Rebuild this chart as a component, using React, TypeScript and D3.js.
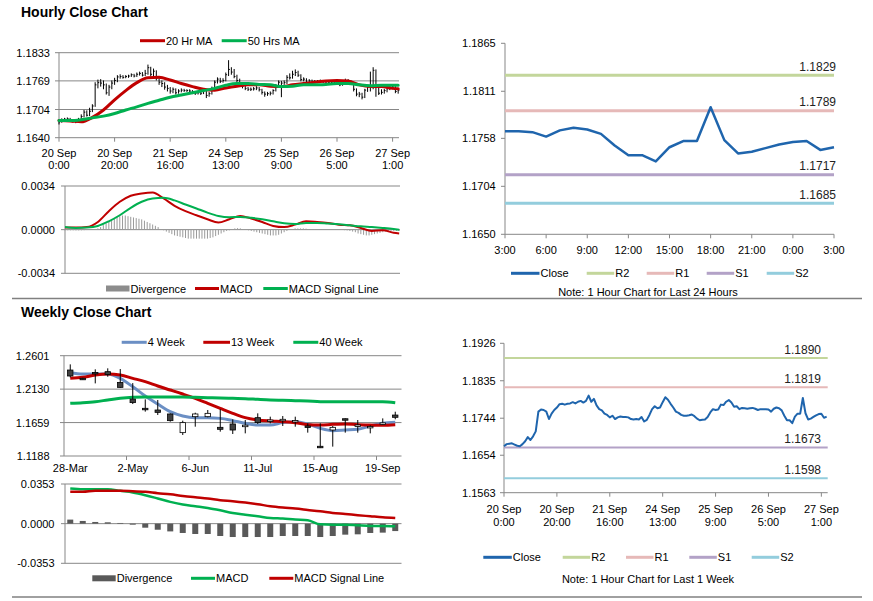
import React from "react";
import * as d3 from "d3";

const font = "Arial, 'Liberation Sans', sans-serif";

// ---------- Hourly data: 20 Sep 0:00 .. 27 Sep 3:00 (123 trading hours)
const hourlyClose = [
  1.1676, 1.1681, 1.1682, 1.1683, 1.168, 1.1677, 1.1676, 1.1681, 1.1688, 1.1698,
  1.1691, 1.17, 1.1712, 1.176, 1.1765, 1.1764, 1.176, 1.1742, 1.1755, 1.1764,
  1.177, 1.1778, 1.1779, 1.1777, 1.1779, 1.178, 1.1783, 1.178, 1.1784, 1.1786,
  1.1782, 1.1786, 1.1799, 1.1784, 1.1791, 1.1775, 1.1766, 1.1763, 1.1755, 1.1752,
  1.1746, 1.175, 1.1742, 1.1746, 1.1748, 1.1747, 1.1747, 1.1746, 1.1742, 1.1741,
  1.1742, 1.1741, 1.1747, 1.1736, 1.174, 1.1752, 1.1766, 1.1773, 1.1768, 1.177,
  1.1783, 1.1795, 1.1789, 1.1779, 1.177, 1.176, 1.1757, 1.1752, 1.175, 1.175,
  1.1751, 1.1753, 1.1749, 1.1743, 1.1739, 1.174, 1.1741, 1.1747, 1.1758, 1.1766,
  1.1764, 1.1765, 1.1777, 1.1776, 1.1784, 1.1788, 1.1782, 1.1772, 1.1773, 1.1766,
  1.1769, 1.1768, 1.1767, 1.1768, 1.1769, 1.1767, 1.1764, 1.1766,
  1.1766, 1.1766, 1.1765, 1.176, 1.1767, 1.177, 1.1768, 1.1763, 1.175, 1.1739,
  1.1739, 1.1732, 1.1748, 1.1755, 1.1755, 1.1793, 1.1756, 1.1741, 1.1743, 1.1747,
  1.1751, 1.1754, 1.1755, 1.1745, 1.1748,
];
const hourlyHigh = [
  1.168, 1.1684, 1.1685, 1.1686, 1.1685, 1.1682, 1.1681, 1.1685, 1.1693, 1.1703,
  1.1702, 1.1708, 1.1716, 1.1766, 1.1772, 1.1773, 1.177, 1.1763, 1.176, 1.177,
  1.1776, 1.1782, 1.1784, 1.1782, 1.1782, 1.1783, 1.1786, 1.1785, 1.1788, 1.179,
  1.1789, 1.1794, 1.1806, 1.1801, 1.1797, 1.1793, 1.1778, 1.177, 1.1766, 1.176,
  1.1755, 1.1754, 1.1752, 1.175, 1.1752, 1.1751, 1.175, 1.175, 1.1748, 1.1745,
  1.1746, 1.1745, 1.175, 1.1748, 1.1744, 1.1756, 1.177, 1.1777, 1.1776, 1.1775,
  1.1788, 1.1816, 1.18, 1.1796, 1.1783, 1.1774, 1.1763, 1.176, 1.1755, 1.1754,
  1.1755, 1.1757, 1.1755, 1.1751, 1.1745, 1.1744, 1.1745, 1.175, 1.1762, 1.177,
  1.1769, 1.177, 1.1782, 1.1786, 1.1792, 1.1795, 1.1792, 1.1784, 1.1777, 1.1775,
  1.1773, 1.1772, 1.1771, 1.1771, 1.1772, 1.1771, 1.1769, 1.177, 1.177, 1.1769,
  1.1769, 1.1767, 1.1771, 1.1774, 1.1773, 1.177, 1.1765, 1.1752, 1.1744, 1.1742,
  1.1751, 1.1759, 1.179, 1.18, 1.1795, 1.176, 1.175, 1.1751, 1.1755, 1.1758,
  1.1759, 1.1757, 1.1752,
];
const hourlyLow = [
  1.167, 1.1674, 1.1678, 1.1679, 1.1677, 1.1674, 1.1673, 1.1675, 1.1679, 1.1686,
  1.1688, 1.1689, 1.1698, 1.171, 1.1752, 1.1756, 1.175, 1.1738, 1.1735, 1.175,
  1.176, 1.1766, 1.1774, 1.1774, 1.1775, 1.1776, 1.1778, 1.1777, 1.1778, 1.1781,
  1.1779, 1.178, 1.1783, 1.1779, 1.178, 1.177, 1.176, 1.1755, 1.1749, 1.1745,
  1.174, 1.1741, 1.1738, 1.174, 1.1743, 1.1744, 1.1744, 1.1743, 1.1739, 1.1737,
  1.1738, 1.1737, 1.1739, 1.173, 1.1733, 1.1738, 1.175, 1.1763, 1.1764, 1.1765,
  1.1768, 1.178, 1.1783, 1.1775, 1.1765, 1.1756, 1.1752, 1.1748, 1.1746, 1.1746,
  1.1747, 1.1748, 1.1745, 1.1738, 1.1733, 1.1735, 1.1736, 1.1738, 1.1745, 1.1755,
  1.1732, 1.176, 1.1762, 1.1772, 1.1774, 1.178, 1.1778, 1.1768, 1.1768, 1.1762,
  1.1764, 1.1765, 1.1764, 1.1764, 1.1765, 1.1764, 1.1761, 1.1762, 1.1762, 1.1763,
  1.1761, 1.1757, 1.1758, 1.1764, 1.1764, 1.176, 1.1745, 1.1734, 1.1732, 1.1727,
  1.173, 1.1744, 1.1745, 1.175, 1.1733, 1.1737, 1.1738, 1.174, 1.1743, 1.1748,
  1.175, 1.1741, 1.174,
];
const hourlyTickIdx = [0, 20, 40, 60, 80, 100, 120];
const hourlyTickDay = ["20 Sep", "20 Sep", "21 Sep", "24 Sep", "25 Sep", "26 Sep", "27 Sep"];
const hourlyTickTime = ["0:00", "20:00", "16:00", "13:00", "9:00", "5:00", "1:00"];
const hourlyPriceTicks = ["1.1640", "1.1704", "1.1769", "1.1833"];

// moving averages and MACD read every 4 hours
const sampleHours = [
  0, 4, 8, 12, 16, 20, 24, 28, 32, 36, 40, 44, 48, 52, 56, 60,
  64, 68, 72, 76, 80, 84, 88, 92, 96, 100, 104, 108, 112, 116, 120, 122,
];
const ma20Hr = [
  1.1679, 1.1678, 1.1676, 1.1686, 1.1703, 1.1726, 1.1747, 1.1765, 1.1776, 1.1777, 1.1771,
  1.1763, 1.1756, 1.175, 1.1748, 1.1753, 1.1757, 1.176, 1.176, 1.1757, 1.1756, 1.176,
  1.1763, 1.1766, 1.1769, 1.177, 1.1769, 1.176, 1.1756, 1.1756, 1.1752, 1.1751,
];
const ma50Hr = [
  1.1679, 1.1679, 1.1681, 1.1685, 1.1689, 1.1695, 1.1703, 1.171, 1.1718, 1.1725, 1.1732,
  1.1737, 1.1742, 1.1747, 1.1752, 1.1759, 1.1763, 1.1763, 1.1761, 1.176, 1.1756, 1.1757,
  1.176, 1.176, 1.1761, 1.1763, 1.1763, 1.176, 1.1758, 1.1759, 1.1759, 1.1759,
];
const macdHourly = [
  0.00016, 0.00016, 0.0002, 0.0006, 0.00144, 0.00217, 0.00264, 0.00282, 0.0029, 0.00243,
  0.00186, 0.00144, 0.00112, 0.00081, 0.00055, 0.00081, 0.00107, 0.00086, 0.0006, 0.00029,
  0.0002, 0.00039, 0.00065, 0.0006, 0.00052, 0.00039, 0.00034, 0.00013, -0.0001, -0.00005,
  -0.00024, -0.0003,
];
const signalHourly = [
  0.0002, 0.00013, 0.00016, 0.00029, 0.00065, 0.00112, 0.0017, 0.00217, 0.00243, 0.00248,
  0.00228, 0.00196, 0.00165, 0.00133, 0.00107, 0.00097, 0.00099, 0.00092, 0.00081, 0.00065,
  0.0005, 0.00044, 0.00052, 0.00052, 0.00047, 0.00042, 0.00034, 0.00026, 0.0002, 0.00013,
  0.00005, 0,
];
const divergenceHourly = [
  -0.00005, -0.00005, -0.00005, -0.00005, -0.00006, -0.00006, -0.00005, -0.00004, -0.00003, -0.00002,
  0.00002, 0.00005, 0.0001, 0.0002, 0.00035, 0.0005, 0.00065, 0.0008, 0.0009, 0.001,
  0.00105, 0.0011, 0.0011, 0.00105, 0.001, 0.00095, 0.0009, 0.00085, 0.0008, 0.0007,
  0.0006, 0.0005, 0.0004, 0.0003, 0.0002, 0.00005, -0.00005, -0.00015, -0.00025, -0.00035,
  -0.00045, -0.0005, -0.00055, -0.0006, -0.00065, -0.0007, -0.0007, -0.0007, -0.0007, -0.0007,
  -0.0007, -0.0007, -0.0007, -0.00065, -0.0006, -0.0005, -0.0004, -0.0003, -0.0002, -0.0001,
  -0.00005, 0.00005, 0.0001, 0.00012, 0.0001, 0.00005, 0, -0.00005, -0.0001, -0.00015,
  -0.0002, -0.00025, -0.0003, -0.00035, -0.0004, -0.00045, -0.00045, -0.00045, -0.0004, -0.0003,
  -0.0002, -0.0001, 0, 0.00005, 0.0001, 0.0001, 0.0001, 0.0001, 0.00008, 0.00005,
  0.00005, 0.00004, 0.00003, 0.00003, 0.00004, 0.00004, 0.00003, 0.00002, 0.00001, 0,
  0, -0.00002, -0.00004, -0.00006, -0.0001, -0.00015, -0.0002, -0.0003, -0.00035, -0.0004,
  -0.00045, -0.00045, -0.0004, -0.00035, -0.0003, -0.00025, -0.0002, -0.00015, -0.00015, -0.00012,
  -0.0001, -0.0001, -0.0001,
];
const hourlyMacdTicks = ["-0.0034", "0.0000", "0.0034"];

// ---------- Last 24 hours (3:00 .. 3:00)
const dayHours = [
  "3:00", "4:00", "5:00", "6:00", "7:00", "8:00", "9:00", "10:00", "11:00", "12:00", "13:00",
  "14:00", "15:00", "16:00", "17:00", "18:00", "19:00", "20:00", "21:00", "22:00", "23:00",
  "0:00", "1:00", "2:00", "3:00",
];
const dayClose = hourlyClose.slice(98);
const dayPriceTicks = ["1.1650", "1.1704", "1.1758", "1.1811", "1.1865"];
const levelNames = ["R2", "R1", "S1", "S2"];
const dayLevels = [1.1829, 1.1789, 1.1717, 1.1685];

// ---------- Last week, hourly
const weekPriceTicks = ["1.1563", "1.1654", "1.1744", "1.1835", "1.1926"];
const weekLevels = [1.189, 1.1819, 1.1673, 1.1598];

// ---------- Weekly candles
const weeks = [
  "28-Mar", "4-Apr", "11-Apr", "18-Apr", "25-Apr", "2-May", "9-May", "16-May", "23-May",
  "30-May", "6-Jun", "13-Jun", "20-Jun", "27-Jun", "4-Jul", "11-Jul", "18-Jul", "25-Jul",
  "1-Aug", "8-Aug", "15-Aug", "22-Aug", "29-Aug", "5-Sep", "12-Sep", "19-Sep", "26-Sep",
];
const weekOpen = [
  1.2399, 1.2283, 1.2365, 1.2376, 1.2225, 1.199, 1.186, 1.1836, 1.178, 1.1517, 1.1742, 1.1742,
  1.1592, 1.1639, 1.1615, 1.1728, 1.169, 1.17, 1.168, 1.1611, 1.1325, 1.1554, 1.1713, 1.162,
  1.16, 1.165, 1.1765,
];
const weekHigh = [
  1.2479, 1.229, 1.2409, 1.2423, 1.2413, 1.2215, 1.1986, 1.1977, 1.1789, 1.1686, 1.1798, 1.1836,
  1.1845, 1.1704, 1.1695, 1.1789, 1.1742, 1.1751, 1.1742, 1.1648, 1.1648, 1.1611, 1.1718, 1.1695,
  1.162, 1.1718, 1.1812,
];
const weekLow = [
  1.2296, 1.2262, 1.2211, 1.2305, 1.215, 1.192, 1.1813, 1.1766, 1.1672, 1.1484, 1.1601, 1.1733,
  1.1531, 1.1498, 1.1507, 1.1639, 1.1648, 1.1611, 1.1601, 1.1517, 1.13, 1.132, 1.1517, 1.1517,
  1.1507, 1.1625, 1.1705,
];
const weekClose = [
  1.2315, 1.2275, 1.2345, 1.2335, 1.2155, 1.194, 1.184, 1.1803, 1.1686, 1.1658, 1.178, 1.1789,
  1.1564, 1.1554, 1.1622, 1.1658, 1.1695, 1.1705, 1.1688, 1.1592, 1.131, 1.1592, 1.17, 1.1625,
  1.1605, 1.1655, 1.1733,
];
const ma4Week = [
  1.2362, 1.2343, 1.2343, 1.2343, 1.2282, 1.2164, 1.2033, 1.192, 1.1812, 1.1751, 1.1728, 1.1728,
  1.1718, 1.1686, 1.1648, 1.1625, 1.1625, 1.1658, 1.1672, 1.1639, 1.1578, 1.1545, 1.1554, 1.1564,
  1.1611, 1.1648, 1.1662,
];
const ma13Week = [
  1.2282, 1.2296, 1.2329, 1.2343, 1.2329, 1.2282, 1.2235, 1.2174, 1.2118, 1.2061, 1.2, 1.193,
  1.1859, 1.1789, 1.1728, 1.1695, 1.1681, 1.1672, 1.1658, 1.1629, 1.1625, 1.1634, 1.1639, 1.1629,
  1.1625, 1.162, 1.1629,
];
const ma40Week = [
  1.193, 1.1939, 1.1953, 1.1977, 1.2, 1.2014, 1.2019, 1.2019, 1.2019, 1.2019, 1.2014, 1.201,
  1.2005, 1.2, 1.1996, 1.1986, 1.1977, 1.1972, 1.1967, 1.1963, 1.1953, 1.1953, 1.1953, 1.1953,
  1.1953, 1.1953, 1.1939,
];
const weeklyPriceTicks = ["1.1188", "1.1659", "1.2130", "1.2601"];
const macdWeekly = [
  0.0313, 0.0307, 0.0307, 0.0307, 0.0292, 0.0277, 0.0253, 0.0224, 0.0194, 0.017, 0.0155, 0.014,
  0.0119, 0.0095, 0.008, 0.0066, 0.0051, 0.0045, 0.0036, 0.003, -0.0006, -0.0009, -0.0009,
  -0.0015, -0.0021, -0.0021, -0.0024,
];
const signalWeekly = [
  0.0283, 0.0283, 0.0292, 0.0292, 0.0292, 0.0289, 0.0283, 0.0271, 0.0262, 0.0247, 0.0235, 0.0224,
  0.0209, 0.02, 0.0188, 0.0173, 0.0155, 0.0143, 0.0134, 0.0122, 0.011, 0.0095, 0.0086, 0.0075,
  0.0066, 0.0057, 0.0051,
];
const divergenceWeekly = [
  0.0036, 0.0024, 0.0015, 0.0012, 0.0006, -0.0009, -0.0036, -0.0054, -0.0069, -0.0083, -0.0092,
  -0.0092, -0.011, -0.0119, -0.0119, -0.0119, -0.0119, -0.011, -0.011, -0.011, -0.0119, -0.011,
  -0.0098, -0.0095, -0.0083, -0.008, -0.0066,
];
const weeklyMacdTicks = ["-0.0353", "0.0000", "0.0353"];

// ---------- styles
const RED = "#c00000";
const GREEN = "#00b050";
const CLOSE_BLUE = "#1f65ad";
const MA_BLUE = "#6b8fc4";
const GRID = "#878787";
const levelColors = ["#c3d69b", "#e6b9b8", "#b3a2c7", "#93cddd"];
const txt = { fontFamily: font, fontSize: 11, fill: "#000" } as const;

type LegendItem = { label: string; color: string; x: number; kind: "line" | "rect"; w?: number };

const Legend = ({ items, y }: { items: LegendItem[]; y: number }) => (
  <g>
    {items.map((it) => {
      const w = it.w ?? 25;
      return (
        <g key={it.label}>
          {it.kind === "line" ? (
            <line x1={it.x} x2={it.x + w} y1={y} y2={y} stroke={it.color} strokeWidth={3} />
          ) : (
            <rect x={it.x} y={y - 3} width={w} height={6} fill={it.color} />
          )}
          <text {...txt} x={it.x + w + 1} y={y} dominantBaseline="central">
            {it.label}
          </text>
        </g>
      );
    })}
  </g>
);

const YAxis = ({ ticks, y, x0, x1, gridLines, labelX }: {
  ticks: string[]; y: d3.ScaleLinear<number, number>; x0: number; x1: number; gridLines: boolean; labelX: number;
}) => {
  const [b, t] = y.range();
  return (
    <g>
      {ticks.map((tk) => (
        <g key={tk}>
          {gridLines && <line x1={x0} x2={x1} y1={y(+tk)} y2={y(+tk)} stroke={GRID} />}
          <line x1={x0 - 4} x2={x0} y1={y(+tk)} y2={y(+tk)} stroke={GRID} />
          <text {...txt} x={labelX} y={y(+tk)} textAnchor="end" dominantBaseline="central">
            {tk}
          </text>
        </g>
      ))}
      <line x1={x0} x2={x0} y1={t} y2={b} stroke={GRID} />
    </g>
  );
};

function HourlyChart() {
  const x = d3.scaleLinear().domain([0, 122.3]).range([59, 399]);
  const y = d3.scaleLinear().domain([1.164, 1.1833]).range([137.7, 52.7]);
  const ma = d3
    .line<number>()
    .x((_, k) => x(sampleHours[k]))
    .y((d) => y(d))
    .curve(d3.curveMonotoneX);
  return (
    <g>
      <YAxis ticks={hourlyPriceTicks} y={y} x0={59} x1={399} gridLines labelX={50} />
      {hourlyTickIdx.map((h, k) => (
        <g key={h}>
          <line x1={x(h)} x2={x(h)} y1={137.7} y2={141.7} stroke={GRID} />
          <text {...txt} x={x(h)} y={152.7} textAnchor="middle" dominantBaseline="central">
            {hourlyTickDay[k]}
          </text>
          <text {...txt} x={x(h)} y={164.5} textAnchor="middle" dominantBaseline="central">
            {hourlyTickTime[k]}
          </text>
        </g>
      ))}
      {hourlyClose.map((c, i) => (
        <g key={i}>
          <line x1={x(i)} x2={x(i)} y1={y(hourlyHigh[i])} y2={y(hourlyLow[i])} stroke="#000" strokeWidth={1} />
          <line x1={x(i)} x2={x(i) + 1.3} y1={y(c)} y2={y(c)} stroke="#000" strokeWidth={1} />
        </g>
      ))}
      <path d={ma(ma20Hr) ?? ""} fill="none" stroke={RED} strokeWidth={3} strokeLinecap="round" />
      <path d={ma(ma50Hr) ?? ""} fill="none" stroke={GREEN} strokeWidth={3} strokeLinecap="round" />
      <Legend
        y={40.7}
        items={[
          { label: "20 Hr MA", color: RED, x: 140, kind: "line" },
          { label: "50 Hrs MA", color: GREEN, x: 221.7, kind: "line" },
        ]}
      />
    </g>
  );
}

function HourlyMacd() {
  const x = d3.scaleLinear().domain([0, 122.3]).range([65, 400]);
  const y = d3.scaleLinear().domain([-0.0034, 0.0034]).range([273.3, 186]);
  const ln = d3
    .line<number>()
    .x((_, k) => x(sampleHours[k]))
    .y((d) => y(d))
    .curve(d3.curveMonotoneX);
  return (
    <g>
      <YAxis ticks={hourlyMacdTicks} y={y} x0={65} x1={400} gridLines labelX={55} />
      {divergenceHourly.map((d, i) => (
        <rect key={i} x={x(i) - 0.5} width={1} y={Math.min(y(d), y(0))} height={Math.abs(y(d) - y(0))} fill="#9a9a9a" />
      ))}
      <path d={ln(macdHourly) ?? ""} fill="none" stroke={RED} strokeWidth={2} />
      <path d={ln(signalHourly) ?? ""} fill="none" stroke={GREEN} strokeWidth={2} />
      <Legend
        y={288.5}
        items={[
          { label: "Divergence", color: "#8c8c8c", x: 106, kind: "rect", w: 23.5 },
          { label: "MACD", color: RED, x: 195, kind: "line", w: 24 },
          { label: "MACD Signal Line", color: GREEN, x: 263.3, kind: "line", w: 24.5 },
        ]}
      />
    </g>
  );
}

function WeeklyChart() {
  const x = d3.scaleBand().domain(weeks).range([64, 401.5]);
  const bw = x.bandwidth();
  const cx = (i: number) => (x(weeks[i]) ?? 0) + bw / 2;
  const y = d3.scaleLinear().domain([1.1188, 1.2601]).range([456, 355.7]);
  const ln = d3
    .line<number>()
    .x((_, i) => cx(i))
    .y((d) => y(d))
    .curve(d3.curveMonotoneX);
  return (
    <g>
      <YAxis ticks={weeklyPriceTicks} y={y} x0={64} x1={401.5} gridLines labelX={49.5} />
      {weeks.map((w, i) =>
        i % 5 === 0 ? (
          <g key={w}>
            {i > 0 && <line x1={x(w)} x2={x(w)} y1={456} y2={460} stroke={GRID} />}
            <text {...txt} x={cx(i)} y={468.3} textAnchor="middle" dominantBaseline="central">
              {w}
            </text>
          </g>
        ) : null
      )}
      <path d={ln(ma4Week) ?? ""} fill="none" stroke={MA_BLUE} strokeWidth={3} />
      <path d={ln(ma13Week) ?? ""} fill="none" stroke={RED} strokeWidth={3} />
      <path d={ln(ma40Week) ?? ""} fill="none" stroke={GREEN} strokeWidth={3} />
      {weeks.map((w, i) => {
        const o = weekOpen[i];
        const c = weekClose[i];
        const up = c >= o;
        const top = y(Math.max(o, c));
        const h = Math.max(1.5, Math.abs(y(o) - y(c)));
        return (
          <g key={w}>
            <line x1={cx(i)} x2={cx(i)} y1={y(weekHigh[i])} y2={y(weekLow[i])} stroke="#000" />
            <rect x={cx(i) - 2.7} y={top} width={5.4} height={h} fill={up ? "#fff" : "#404040"} stroke="#000" strokeWidth={0.8} />
          </g>
        );
      })}
      <Legend
        y={342.3}
        items={[
          { label: "4 Week", color: MA_BLUE, x: 121.7, kind: "line" },
          { label: "13 Week", color: RED, x: 203.3, kind: "line", w: 26.7 },
          { label: "40 Week", color: GREEN, x: 293.3, kind: "line" },
        ]}
      />
    </g>
  );
}

function WeeklyMacd() {
  const x = d3.scaleBand().domain(weeks).range([64, 401.5]);
  const bw = x.bandwidth();
  const cx = (i: number) => (x(weeks[i]) ?? 0) + bw / 2;
  const y = d3.scaleLinear().domain([-0.0353, 0.0353]).range([563.3, 484]);
  const ln = d3
    .line<number>()
    .x((_, i) => cx(i))
    .y((d) => y(d))
    .curve(d3.curveMonotoneX);
  return (
    <g>
      <YAxis ticks={weeklyMacdTicks} y={y} x0={65} x1={401.5} gridLines labelX={54.5} />
      {divergenceWeekly.map((d, i) => (
        <rect key={i} x={cx(i) - 3} width={6} y={Math.min(y(d), y(0))} height={Math.abs(y(d) - y(0))} fill="#595959" />
      ))}
      <path d={ln(macdWeekly) ?? ""} fill="none" stroke={GREEN} strokeWidth={2.5} />
      <path d={ln(signalWeekly) ?? ""} fill="none" stroke={RED} strokeWidth={2.5} />
      <Legend
        y={578.3}
        items={[
          { label: "Divergence", color: "#595959", x: 92.3, kind: "rect", w: 23.4 },
          { label: "MACD", color: GREEN, x: 191, kind: "line", w: 24 },
          { label: "MACD Signal Line", color: RED, x: 269.3, kind: "line", w: 24 },
        ]}
      />
    </g>
  );
}

type LevelProps = {
  closes: number[];
  levels: number[];
  ticks: string[];
  x: d3.ScaleLinear<number, number>;
  y: d3.ScaleLinear<number, number>;
  xLabels: { at: number; lines: string[] }[];
  xLabelY: number[];
  levelWidth: number;
  closeWidth: number;
  labelRight: number;
  legendY: number;
  legendX: number[];
  note: string;
  noteY: number;
};

function LevelChart(p: LevelProps) {
  const [x0, x1] = p.x.range();
  const [yb] = p.y.range();
  const ln = d3
    .line<number>()
    .x((_, i) => p.x(i))
    .y((d) => p.y(d));
  return (
    <g>
      <YAxis ticks={p.ticks} y={p.y} x0={x0} x1={x1} gridLines={false} labelX={495.7} />
      <line x1={x0} x2={x1} y1={yb} y2={yb} stroke={GRID} />
      {p.xLabels.map((l) => (
        <g key={l.at}>
          <line x1={p.x(l.at)} x2={p.x(l.at)} y1={yb} y2={yb + 4} stroke={GRID} />
          {l.lines.map((s, k) => (
            <text key={k} {...txt} x={p.x(l.at)} y={p.xLabelY[k]} textAnchor="middle" dominantBaseline="central">
              {s}
            </text>
          ))}
        </g>
      ))}
      {p.levels.map((v, k) => (
        <g key={levelNames[k]}>
          <line x1={x0} x2={x1} y1={p.y(v)} y2={p.y(v)} stroke={levelColors[k]} strokeWidth={p.levelWidth} />
          <text {...txt} fontSize={12} x={p.labelRight} y={p.y(v) - 4.5} textAnchor="end" fill="#222">
            {v.toFixed(4)}
          </text>
        </g>
      ))}
      <path d={ln(p.closes) ?? ""} fill="none" stroke={CLOSE_BLUE} strokeWidth={p.closeWidth} strokeLinejoin="round" />
      <Legend
        y={p.legendY}
        items={[
          { label: "Close", color: CLOSE_BLUE, x: p.legendX[0], kind: "line", w: 28.5 },
          ...levelNames.map((n, k) => ({
            label: n,
            color: levelColors[k],
            x: p.legendX[k + 1],
            kind: "line" as const,
            w: 27.5,
          })),
        ]}
      />
      <text {...txt} x={648} y={p.noteY} textAnchor="middle" dominantBaseline="central">
        {p.note}
      </text>
    </g>
  );
}

export default function App() {
  const dayX = d3.scaleLinear().domain([0, dayHours.length - 1]).range([505, 834]);
  const dayY = d3.scaleLinear().domain([1.165, 1.1865]).range([234.3, 43.3]);
  const wkX = d3.scaleLinear().domain([0, 122.4]).range([504, 827.7]);
  const wkY = d3.scaleLinear().domain([1.1563, 1.1926]).range([492.7, 343.3]);
  return (
    <svg width={873} height={601} style={{ position: "absolute", left: 0, top: 0, background: "#fff" }}>
      <rect width={873} height={601} fill="#fff" />
      <text x={21} y={17} fontFamily={font} fontSize={14} fontWeight="bold">
        Hourly Close Chart
      </text>
      <text x={21} y={317} fontFamily={font} fontSize={14} fontWeight="bold">
        Weekly Close Chart
      </text>
      <line x1={12} x2={862} y1={298.5} y2={298.5} stroke="#808080" strokeWidth={1.5} />
      <line x1={12} x2={862} y1={597} y2={597} stroke="#808080" strokeWidth={1.5} />
      <HourlyChart />
      <HourlyMacd />
      <WeeklyChart />
      <WeeklyMacd />
      <LevelChart
        closes={dayClose}
        levels={dayLevels}
        ticks={dayPriceTicks}
        x={dayX}
        y={dayY}
        xLabels={dayHours.map((h, i) => ({ at: i, lines: [h] })).filter((_, i) => i % 3 === 0)}
        xLabelY={[250]}
        levelWidth={3}
        closeWidth={2.5}
        labelRight={836}
        legendY={273.3}
        legendX={[511, 586.7, 646.7, 706.7, 766.7]}
        note="Note: 1 Hour Chart for Last 24 Hours"
        noteY={292.3}
      />
      <LevelChart
        closes={hourlyClose}
        levels={weekLevels}
        ticks={weekPriceTicks}
        x={wkX}
        y={wkY}
        xLabels={hourlyTickIdx.map((h, k) => ({ at: h, lines: [hourlyTickDay[k], hourlyTickTime[k]] }))}
        xLabelY={[509.3, 521.7]}
        levelWidth={2}
        closeWidth={2}
        labelRight={821}
        legendY={557.3}
        legendX={[483.3, 562.7, 626, 689.3, 751.7]}
        note="Note: 1 Hour Chart for Last 1 Week"
        noteY={579.3}
      />
    </svg>
  );
}
